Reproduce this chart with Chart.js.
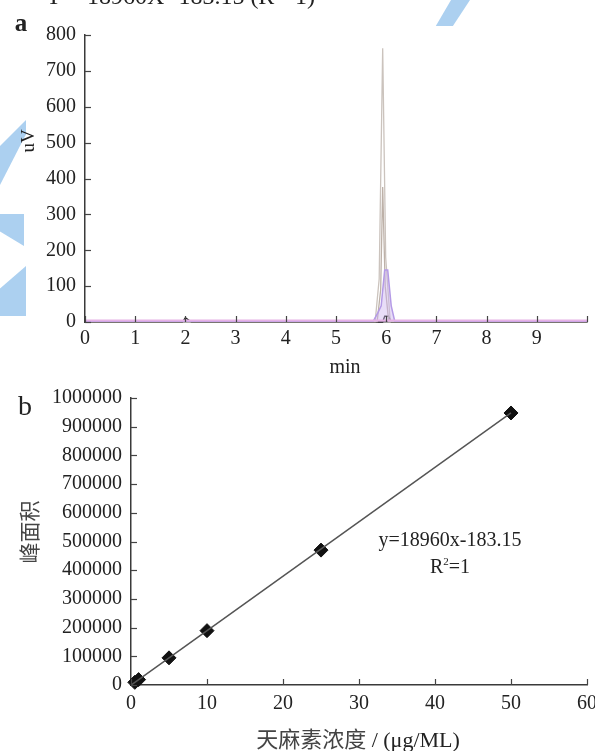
<!DOCTYPE html>
<html><head><meta charset="utf-8">
<script src="https://cdn.jsdelivr.net/npm/chart.js@4.4.1/dist/chart.umd.min.js"></script>
<style>
html,body{margin:0;padding:0;background:#fff}
body{width:595px;height:751px;position:relative;overflow:hidden;font-family:"Liberation Serif","Times New Roman",serif;color:#222}
canvas{position:absolute;left:0}
#ca{top:0}
#cb{top:380px}
.t{position:absolute;white-space:nowrap;transform:translate(-50%,-50%);line-height:1}
.rot{transform:translate(-50%,-50%) rotate(-90deg)}
.wm{position:absolute;background:#acd0f0}
</style></head>
<body>
<div class="wm" style="left:432px;top:0;width:38px;height:26px;clip-path:polygon(50% 0,100% 0,55% 100%,10% 100%)"></div>
<div class="wm" style="left:0;top:120px;width:26px;height:65px;clip-path:polygon(100% 0,100% 22%,0 100%,0 40%)"></div>
<div class="wm" style="left:0;top:214px;width:24px;height:32px;clip-path:polygon(100% 0,100% 100%,0 55%,0 0)"></div>
<div class="wm" style="left:0;top:266px;width:26px;height:50px;clip-path:polygon(100% 0,100% 100%,0 100%,0 45%)"></div>
<canvas id="ca" width="595" height="380"></canvas>
<canvas id="cb" width="595" height="371"></canvas>
<div class="t" style="left:180px;top:-4px;font-size:24px">Y = 18960X -183.15 (R<sup style="font-size:14px">2</sup>=1)</div>
<div class="t" style="left:21px;top:22px;font-size:25px;font-weight:bold">a</div>
<div class="t rot" style="left:27px;top:141px;font-size:19px">uV</div>
<div class="t" style="left:345px;top:366px;font-size:20px">min</div>
<div class="t" style="left:25px;top:406px;font-size:28px">b</div>
<div class="t rot" style="left:28px;top:532px;font-size:21px;font-family:'Noto Sans CJK SC';color:#444">峰面积</div>
<div class="t" style="left:358px;top:738px;font-size:22px"><span style="font-family:'Noto Sans CJK SC';color:#444">天麻素浓度</span> / (μg/ML)</div>
<div class="t" style="left:450px;top:539px;font-size:20px">y=18960x-183.15</div>
<div class="t" style="left:450px;top:566px;font-size:20px">R<sup style="font-size:11px">2</sup>=1</div>
<script>
// ---- panel a: chromatogram (min, uV) ----
const timeTicks = [0,1,2,3,4,5,6,7,8,9,10];
const timeLabels = ['0','1','2','3','4','5','6','7','8','9',''];
const uvTicks = [0,100,200,300,400,500,600,700,800];
const tallX = [0, 5.78, 5.86, 5.93, 5.99, 6.08, 10];
const tallY = [1, 1, 120, 763, 180, 1, 1];
const midX = [0, 5.82, 5.89, 5.93, 5.98, 6.05, 10];
const midY = [1, 1, 90, 376, 100, 1, 1];
const purpleX = [0, 5.74, 5.83, 5.9, 5.97, 6.03, 6.1, 6.17, 10];
const purpleY = [2, 2, 25, 45, 145, 145, 45, 2, 2];
const blackX = [0, 1.94, 2.0, 2.12, 5.93, 5.97, 6.05, 6.1, 10];
const blackY = [0, 0, 12, 0, 0, 16, 16, 0, 0];
const baseX = [0, 10];
const baseY = [4, 4];

// ---- panel b: calibration curve ----
const concX = [0.5, 1, 5, 10, 25, 50];
const areaY = [9300, 18800, 94600, 189400, 470000, 947800];
const fitX = [0, 50];
const slope = 18960, intercept = -183.15;
const concTicks = [0,10,20,30,40,50,60];
const areaTicks = [0,100000,200000,300000,400000,500000,600000,700000,800000,900000,1000000];

const serif = '"Liberation Serif","Times New Roman",serif';
const pts = (xs, ys) => xs.map((x, i) => ({x, y: ys[i]}));

const inTicks = {
  id: 'inTicks',
  afterDatasetsDraw(chart, args, opts) {
    const {ctx, chartArea} = chart;
    const xs = chart.scales.x, ys = chart.scales.y;
    ctx.save();
    ctx.strokeStyle = '#444'; ctx.lineWidth = 1.2;
    xs.ticks.forEach(t => {
      const px = Math.round(xs.getPixelForValue(t.value)) + 0.5;
      ctx.beginPath(); ctx.moveTo(px, chartArea.bottom); ctx.lineTo(px, chartArea.bottom - opts.len); ctx.stroke();
    });
    ys.ticks.forEach(t => {
      const py = Math.round(ys.getPixelForValue(t.value)) + 0.5;
      ctx.beginPath(); ctx.moveTo(chartArea.left, py); ctx.lineTo(chartArea.left + opts.len, py); ctx.stroke();
    });
    ctx.restore();
  }
};

function axisOpts(extra) {
  return Object.assign({
    type: 'linear',
    grid: {display: false, drawTicks: false},
    border: {display: true, color: '#3a3a3a', width: 1.5},
  }, extra);
}

const line = (xs, ys, color, w, fill) => ({
  data: pts(xs, ys), borderColor: color, borderWidth: w, pointRadius: 0,
  fill: fill ? 'origin' : false, backgroundColor: fill || 'transparent', tension: 0, clip: false
});

new Chart(document.getElementById('ca'), {
  type: 'line',
  data: {datasets: [
    line(baseX, baseY, '#e6b2e6', 2),
    line(purpleX, purpleY, '#b49ae6', 1.5, 'rgba(205,180,240,0.45)'),
    line(tallX, tallY, '#cbc3bd', 1.3),
    line(midX, midY, '#bdb1a8', 1.3),
    line(blackX, blackY, '#222', 1.3),
  ]},
  options: {
    responsive: false, animation: false, events: [],
    layout: {padding: {left: 0, right: 8, top: 35, bottom: 0}},
    plugins: {legend: {display: false}, tooltip: {enabled: false}, inTicks: {len: 6}},
    scales: {
      x: axisOpts({min: 0, max: 10,
        afterBuildTicks: s => { s.ticks = timeTicks.map(v => ({value: v})); },
        ticks: {padding: 5, color: '#222', font: {family: serif, size: 20}, maxRotation: 0, autoSkip: false,
          callback: (v, i) => timeLabels[i]},
        afterFit: s => { s.height = 58; s.paddingRight = 0; }}),
      y: axisOpts({min: 0, max: 800,
        afterBuildTicks: s => { s.ticks = uvTicks.map(v => ({value: v})); },
        ticks: {padding: 9, color: '#222', font: {family: serif, size: 20}, autoSkip: false},
        afterFit: s => { s.width = 85; }})
    }
  },
  plugins: [inTicks]
});

new Chart(document.getElementById('cb'), {
  type: 'scatter',
  data: {datasets: [
    {type: 'line', data: fitX.map(x => ({x, y: slope * x + intercept})), borderColor: '#555', borderWidth: 1.5, pointRadius: 0, clip: false},
    {data: pts(concX, areaY), pointStyle: 'rectRot', pointRadius: 7, backgroundColor: '#111', borderColor: '#111', borderWidth: 1, clip: false}
  ]},
  options: {
    responsive: false, animation: false, events: [],
    layout: {padding: {left: 0, right: 6, top: 18, bottom: 0}},
    plugins: {legend: {display: false}, tooltip: {enabled: false}, inTicks: {len: 6}},
    scales: {
      x: axisOpts({min: 0, max: 60,
        afterBuildTicks: s => { s.ticks = concTicks.map(v => ({value: v})); },
        ticks: {padding: 7, color: '#222', font: {family: serif, size: 20}, maxRotation: 0, autoSkip: false},
        afterFit: s => { s.height = 66; s.paddingRight = 0; }}),
      y: axisOpts({min: 0, max: 1000000,
        afterBuildTicks: s => { s.ticks = areaTicks.map(v => ({value: v})); },
        ticks: {padding: 9, color: '#222', font: {family: serif, size: 20}, autoSkip: false, callback: v => String(v)},
        afterFit: s => { s.width = 131; s.paddingTop = 0; }})
    }
  },
  plugins: [inTicks]
});
</script>
</body></html>
